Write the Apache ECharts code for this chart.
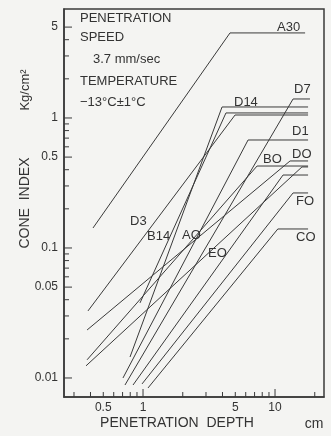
<!DOCTYPE html>
<html><head><meta charset="utf-8">
<script src="https://cdn.jsdelivr.net/npm/echarts@6/dist/echarts.min.js"></script>
<style>html,body{margin:0;padding:0;background:#f4f4f2}#c{width:331px;height:436px}</style>
</head><body><div id="c"></div>
<script>
// curve names and values (penetration depth cm, cone index kg/cm2)
const names  = ['A30','D14','B14','D3','D7','D1','B0','D0','A0','E0','F0','C0'];
const startX = [0.418,0.797,0.949,0.383,0.730,0.705,0.377,0.377,0.370,0.840,0.983,1.091];
const startY = [0.1425,0.0145,0.0378,0.0328,0.00883,0.0100,0.0138,0.0234,0.0124,0.00883,0.0090,0.00838];
const breakX = [4.56,3.97,4.25,4.98,13.7,6.25,7.31,13.0,16.0,11.5,13.7,10.5];
const levelY = [4.51,1.215,1.093,1.054,1.40,0.677,0.427,0.467,0.420,0.364,0.265,0.140];
const endX   = [16.9,17.8,17.8,17.8,18.4,17.8,17.8,17.8,17.8,17.8,17.8,17.8];

// tick values
const xLabelTicks = [0.5,1,5,10];
const xLongTicks  = [1,10];
const xShortTicks = [0.3,0.4,0.5,0.6,0.7,0.8,0.9,2,3,4,5,6,7,8,9,20];
const yLabelTicks = [0.01,0.05,0.1,0.5,1,5];
const yShortTicks = [0.02,0.03,0.04,0.06,0.07,0.08,0.09,0.2,0.3,0.4,0.6,0.7,0.8,0.9,2,3,4];

const X_MIN = 0.252, X_MAX = 23.5, Y_MIN = 0.00714, Y_MAX = 6.89;
const INK = '#3a3a3a';
const FONT = '"Liberation Sans", Arial, sans-serif';

const chart = echarts.init(document.getElementById('c'), null, {renderer:'canvas'});

const series = names.map((n, i) => ({
  type: 'line', name: n, symbol: 'none', animation: false,
  lineStyle: {color: INK, width: 1},
  data: [[startX[i], startY[i]], [breakX[i], levelY[i]], [endX[i], levelY[i]]]
}));

// tick marks drawn through the axes' own scales
const xTickData = xLongTicks.map(v => [v, Y_MIN, 8]).concat(xShortTicks.map(v => [v, Y_MIN, 5]));
const yTickData = yLabelTicks.map(v => [X_MIN, v, 8]).concat(yShortTicks.map(v => [X_MIN, v, 5]));

series.push({
  type:'custom', clip:false, silent:true, z:5,
  data: xTickData,
  renderItem: function(params, api){
    const p = api.coord([api.value(0), api.value(1)]);
    const len = api.value(2);
    return {type:'line', shape:{x1:p[0], y1:p[1], x2:p[0], y2:p[1]-len}, style:{stroke:INK, lineWidth:1}};
  }
});
series.push({
  type:'custom', clip:false, silent:true, z:5,
  data: yTickData,
  renderItem: function(params, api){
    const p = api.coord([api.value(0), api.value(1)]);
    const len = api.value(2);
    return {type:'line', shape:{x1:p[0], y1:p[1], x2:p[0]+len, y2:p[1]}, style:{stroke:INK, lineWidth:1}};
  }
});

function fmt(v){ return String(v); }

const option = {
  backgroundColor: '#f4f4f2',
  animation: false,
  grid: {left:64, right:7, top:9, bottom:39, show:true, borderColor:INK, borderWidth:1.5, backgroundColor:'transparent'},
  xAxis: {type:'log', logBase:10, min:X_MIN, max:X_MAX, splitLine:{show:false}, minorTick:{show:false},
    axisLine:{lineStyle:{color:INK, width:1.5}},
    axisTick:{show:false},
    axisLabel:{show:true, customValues:xLabelTicks, formatter:fmt, color:'#333', fontSize:12, fontFamily:FONT, margin:5}
  },
  yAxis: {type:'log', logBase:10, min:Y_MIN, max:Y_MAX, splitLine:{show:false}, minorTick:{show:false},
    axisLine:{lineStyle:{color:INK, width:1.5}},
    axisTick:{show:false},
    axisLabel:{show:true, customValues:yLabelTicks, formatter:fmt, color:'#333', fontSize:12, fontFamily:FONT, margin:6}
  },
  series: series,
  graphic: [
    {type:'text', left:80, top:12, style:{text:'PENETRATION', font:'13px '+FONT, fill:'#333'}},
    {type:'text', left:80, top:31, style:{text:'SPEED', font:'13px '+FONT, fill:'#333'}},
    {type:'text', left:93, top:53, style:{text:'3.7 mm/sec', font:'13px '+FONT, fill:'#333'}},
    {type:'text', left:80, top:75, style:{text:'TEMPERATURE', font:'13px '+FONT, fill:'#333'}},
    {type:'text', left:80, top:96, style:{text:'\u221213\u00b0C\u00b11\u00b0C', font:'13px '+FONT, fill:'#333'}},
    // curve labels
    {type:'text', left:277, top:21, style:{text:'A30', font:'13px '+FONT, fill:'#333'}},
    {type:'text', left:234, top:96, style:{text:'D14', font:'13px '+FONT, fill:'#333'}},
    {type:'text', left:294, top:83, style:{text:'D7', font:'13px '+FONT, fill:'#333'}},
    {type:'text', left:292, top:125, style:{text:'D1', font:'13px '+FONT, fill:'#333'}},
    {type:'text', left:263, top:153, style:{text:'BO', font:'13px '+FONT, fill:'#333'}},
    {type:'text', left:292, top:148, style:{text:'DO', font:'13px '+FONT, fill:'#333'}},
    {type:'text', left:296, top:195, style:{text:'FO', font:'13px '+FONT, fill:'#333'}},
    {type:'text', left:296, top:231, style:{text:'CO', font:'13px '+FONT, fill:'#333'}},
    {type:'text', left:130, top:215, style:{text:'D3', font:'13px '+FONT, fill:'#333'}},
    {type:'text', left:147, top:230, style:{text:'B14', font:'13px '+FONT, fill:'#333'}},
    {type:'text', left:182, top:229, style:{text:'AO', font:'13px '+FONT, fill:'#333'}},
    {type:'text', left:208, top:247, style:{text:'EO', font:'13px '+FONT, fill:'#333'}},
    // axis titles
    {type:'text', x:25, y:203, rotation:Math.PI/2, style:{text:'CONE  INDEX', font:'14px '+FONT, fill:'#333', align:'center', verticalAlign:'middle'}},
    {type:'text', x:25, y:90, rotation:Math.PI/2, style:{text:'Kg/cm\u00b2', font:'13px '+FONT, fill:'#333', align:'center', verticalAlign:'middle'}},
    {type:'text', x:177, y:423, style:{text:'PENETRATION  DEPTH', font:'14px '+FONT, fill:'#333', align:'center', verticalAlign:'middle'}},
    {type:'text', x:314, y:424, style:{text:'cm', font:'14px '+FONT, fill:'#333', align:'center', verticalAlign:'middle'}}
  ]
};
chart.setOption(option);
</script></body></html>
